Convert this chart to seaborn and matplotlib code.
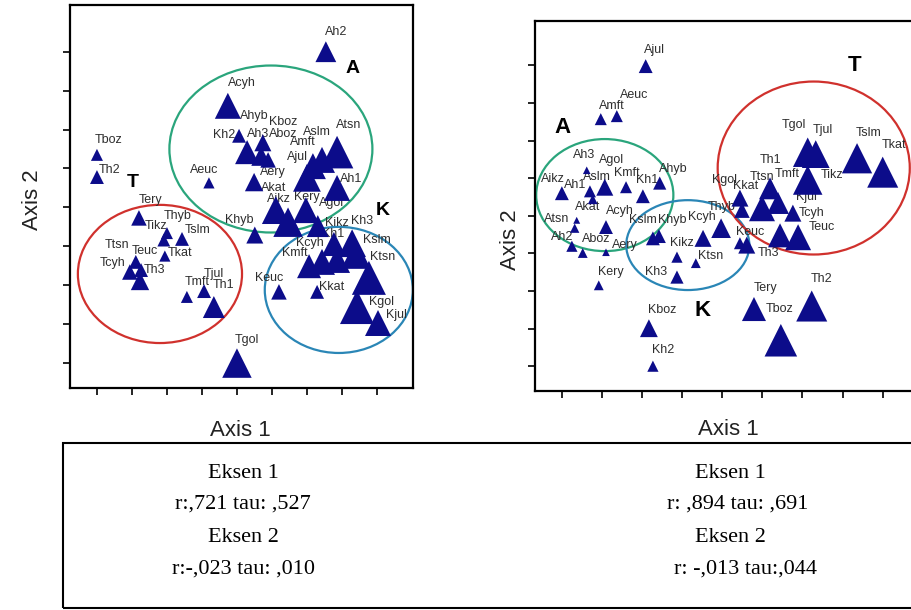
import matplotlib
matplotlib.use("Agg")
import matplotlib.pyplot as plt
from matplotlib.patches import Ellipse, Rectangle
import pandas as pd
import seaborn as sns

sns.set_style("ticks")
plt.rcParams["font.family"] = ["Liberation Sans", "DejaVu Sans"]

# ---------------- left ordination (scores in axis units) ----------------
left_names = ["Ah2", "Acyh", "Ahyb", "Kh2", "Kboz", "Ah3", "Aboz", "Aslm", "Atsn",
              "Amft", "Ajul", "Aery", "Akat", "Aikz", "Kery", "Agol", "Ah1", "Aeuc",
              "Khyb", "Kikz", "Kh3", "Kh1", "Kcyh", "Kslm", "Kmft", "Ktsn", "Keuc",
              "Kkat", "Kgol", "Kjul",
              "Tboz", "Th2", "Tery", "Tikz", "Thyb", "Tslm", "Tkat", "Ttsn", "Teuc",
              "Tcyh", "Th3", "Tmft", "Tjul", "Th1", "Tgol"]
left_axis1 = [6.54, 3.74, 4.29, 4.06, 4.74, 4.69, 4.89, 6.43, 6.86,
              6.17, 6.00, 4.49, 5.11, 5.46, 5.97, 6.31, 6.86, 3.20,
              4.51, 6.77, 7.29, 6.86, 6.43, 7.40, 6.06, 7.77, 5.20,
              6.29, 7.43, 8.03,
              0.00, 0.00, 1.20, 1.91, 2.00, 2.43, 1.94, 1.11, 1.26,
              0.94, 1.23, 2.57, 3.06, 3.34, 4.00]
left_axis2 = [8.00, 6.61, 5.42, 5.84, 5.66, 5.32, 5.22, 5.22, 5.42,
              5.06, 4.76, 4.65, 3.93, 3.62, 3.93, 3.52, 4.50, 4.63,
              3.29, 3.06, 3.08, 2.65, 2.60, 2.80, 2.49, 2.19, 1.83,
              1.83, 1.44, 1.03,
              5.35, 4.78, 3.73, 3.16, 3.34, 3.19, 2.75, 2.60, 2.39,
              2.34, 2.11, 1.70, 1.85, 1.44, 0.00]
left_abund = [4.5, 7, 6, 2, 3, 4, 2.5, 7, 11,
              7, 8, 3.5, 8, 9, 7, 5, 7, 1.3,
              3, 6, 8, 7, 7, 9, 6, 12, 2.5,
              2, 12, 7,
              1.5, 2, 2.5, 1.7, 1.5, 2, 1.3, 2, 2,
              2.5, 3.5, 1.5, 2, 5, 9]

# ---------------- right ordination ----------------
right_names = ["Ajul", "Aeuc", "Amft", "Ah3", "Agol", "Aslm", "Ah1", "Aikz", "Ahyb",
               "Akat", "Atsn", "Acyh", "Ah2", "Aboz", "Aery",
               "Kmft", "Kh1", "Kery", "Kslm", "Khyb", "Kikz", "Kh3", "Kboz", "Kh2",
               "Ktsn", "Kcyh", "Keuc", "Kgol", "Kkat", "Kjul",
               "Thyb", "Th3", "Ttsn", "Th1", "Tmft", "Tgol", "Tjul", "Tikz", "Tslm",
               "Tkat", "Tcyh", "Teuc", "Tery", "Tboz", "Th2"]
right_axis1 = [2.09, 1.37, 0.97, 0.62, 1.07, 0.70, 0.77, 0.00, 2.44,
               0.37, 0.32, 1.10, 0.25, 0.52, 1.10,
               1.60, 2.02, 0.92, 2.27, 2.42, 2.87, 2.87, 2.17, 2.27,
               3.34, 3.52, 4.44, 4.44, 4.49, 5.76,
               3.97, 4.61, 4.99, 5.19, 5.39, 6.13, 6.33, 6.13, 7.36,
               8.00, 5.44, 5.89, 4.79, 5.46, 6.23]
right_axis2 = [7.98, 6.65, 6.57, 5.21, 4.76, 4.65, 4.44, 4.60, 4.87,
               3.88, 3.67, 3.70, 3.19, 3.01, 3.03,
               4.76, 4.52, 2.15, 3.40, 3.46, 2.90, 2.37, 1.01, 0.00,
               2.74, 3.40, 3.27, 4.47, 4.15, 4.07,
               3.67, 3.22, 4.20, 4.73, 4.34, 5.69, 5.64, 4.95, 5.53,
               5.16, 3.48, 3.43, 1.52, 0.69, 1.60]
right_abund = [2, 1.5, 1.5, 0.6, 3, 1.5, 1, 2, 1.8,
               0.5, 0.9, 2, 1.3, 1, 0.6,
               1.5, 2, 1, 2, 2, 1.3, 1.8, 3.3, 1.3,
               1, 3, 1.5, 3, 2.5, 3,
               4, 3, 7, 5, 5, 9, 8, 9, 9.5,
               10, 6, 7, 6, 11, 10]

# correlation summary printed under the plots
stats_left = ["Eksen 1", "r:,721 tau: ,527", "Eksen 2", "r:-,023 tau: ,010"]
stats_right = ["Eksen 1", "r: ,894 tau: ,691", "Eksen 2", "r: -,013 tau:,044"]

# ---------------- styling ----------------
NAVY = "#0c0c8a"
LABEL_COLOR = "#2e2e2e"
GREEN, RED, BLUE = "#2aa57c", "#d0312d", "#2a86b6"

# label offsets in pixels (dx right, dy down) from each marker
left_offsets = {
    "Ah2": (10, -20), "Acyh": (14, -23), "Ahyb": (7, -36), "Kh2": (-15, -1),
    "Kboz": (20, -21), "Ah3": (-3, -22), "Aboz": (15, -26), "Aslm": (-5, -28),
    "Atsn": (12, -27), "Amft": (-10, -24), "Ajul": (-9, -21), "Aery": (19, -10),
    "Akat": (-2, -22), "Aikz": (-9, -23), "Kery": (1, -13), "Agol": (14, -23),
    "Ah1": (14, -9), "Aeuc": (-5, -13), "Khyb": (-16, -15), "Kikz": (3, -21),
    "Kh3": (10, -22), "Kh1": (-4, -26), "Kcyh": (-12, -19), "Kslm": (21, -14),
    "Kmft": (-14, -13), "Ktsn": (14, -21), "Keuc": (-10, -14), "Kkat": (15, -5),
    "Kgol": (24, -5), "Kjul": (18, -8), "Tboz": (12, -15), "Th2": (13, -7),
    "Tery": (12, -18), "Tikz": (-8, -14), "Thyb": (11, -17), "Tslm": (16, -9),
    "Tkat": (15, -3), "Ttsn": (-19, -17), "Teuc": (4, -19), "Tcyh": (-17, -9),
    "Th3": (14, -11), "Tmft": (10, -15), "Tjul": (10, -17), "Th1": (10, -22),
    "Tgol": (10, -23),
}
right_offsets = {
    "Ajul": (9, -16), "Aeuc": (17, -21), "Amft": (11, -13), "Ah3": (-3, -15),
    "Agol": (7, -27), "Aslm": (7, -14), "Ah1": (-18, -14), "Aikz": (-9, -14),
    "Ahyb": (14, -14), "Akat": (11, -13), "Atsn": (-18, -9), "Acyh": (14, -16),
    "Ah2": (-10, -9), "Aboz": (13, -14), "Aery": (19, -7), "Kmft": (1, -14),
    "Kh1": (4, -16), "Kery": (12, -13), "Kslm": (-10, -18), "Khyb": (13, -16),
    "Kikz": (5, -14), "Kh3": (-21, -5), "Kboz": (13, -18), "Kh2": (10, -16),
    "Ktsn": (15, -7), "Kcyh": (-1, -21), "Keuc": (10, -11), "Kgol": (-15, -18),
    "Kkat": (4, -24), "Kjul": (14, -16), "Thyb": (1, -21), "Th3": (22, 8),
    "Ttsn": (0, -31), "Th1": (1, -28), "Tmft": (9, -29), "Tgol": (-14, -27),
    "Tjul": (7, -24), "Tikz": (24, -5), "Tslm": (12, -25), "Tkat": (11, -27),
    "Tcyh": (32, -22), "Teuc": (24, -10), "Tery": (12, -21), "Tboz": (-1, -31),
    "Th2": (10, -27),
}

# group outlines: centre x, centre y, width, height, colour
left_groups = [(4.97, 5.50, 5.80, 4.29, GREEN),
               (1.80, 2.29, 4.69, 3.55, RED),
               (6.91, 1.88, 4.23, 3.24, BLUE)]
right_groups = [(1.07, 4.55, 3.42, 2.98, GREEN),
                (3.14, 3.22, 3.07, 2.39, BLUE),
                (6.28, 5.27, 4.79, 4.60, RED)]
left_letters = [("A", 7.31, 7.58), ("T", 1.03, 4.65), ("K", 8.17, 3.93)]
right_letters = [("A", 0.02, 6.36), ("T", 7.31, 8.00), ("K", 3.52, 1.49)]

fig = plt.figure(figsize=(9.12, 6.1), dpi=100)
ax_l = fig.add_axes([70 / 912, 222 / 610, 343 / 912, 383 / 610])
ax_r = fig.add_axes([535 / 912, 219 / 610, 383 / 912, 370 / 610])


def draw_panel(ax, names, a1, a2, ab, offsets, groups, letters, xlim, ylim,
               letter_size, ylab_pos, xlab_pos):
    df = pd.DataFrame({"sample": names, "axis1": a1, "axis2": a2, "abund": ab})
    for cx, cy, w, h, col in groups:
        ax.add_patch(Ellipse((cx, cy), w, h, fill=False, ec=col, lw=1.6, zorder=1.5))
    for name, x, y in zip(df["sample"], df["axis1"], df["axis2"]):
        dx, dy = offsets[name]
        ax.annotate(name, (x, y), xytext=(dx, -dy), textcoords="offset pixels",
                    ha="center", va="center", fontsize=9, color=LABEL_COLOR,
                    zorder=2)
    sns.scatterplot(data=df, x="axis1", y="axis2", size="abund",
                    sizes=(0, 600), size_norm=(0, 12), marker="^", color=NAVY,
                    linewidth=0, legend=False, ax=ax, zorder=3)
    for txt, x, y in letters:
        ax.text(x, y, txt, fontsize=letter_size, fontweight="bold",
                ha="center", va="center", color="black", zorder=4)
    ax.set_xlim(*xlim)
    ax.set_ylim(*ylim)
    ax.set_xticks(range(9))
    ax.set_yticks(range(9))
    ax.tick_params(direction="out", length=5, width=1.2, color="black",
                   labelbottom=False, labelleft=False, bottom=True, left=True)
    ax.set_xlabel("")
    ax.set_ylabel("")
    for sp in ax.spines.values():
        sp.set_visible(True)
        sp.set_color("black")
        sp.set_linewidth(1.6)
    ax.text(*ylab_pos, "Axis 2", rotation=90, ha="center", va="center",
            fontsize=16, color="#222222", transform=ax.transAxes)
    ax.text(*xlab_pos, "Axis 1", ha="center", va="center",
            fontsize=16, color="#222222", transform=ax.transAxes)


draw_panel(ax_l, left_names, left_axis1, left_axis2, left_abund, left_offsets,
           left_groups, left_letters, (-0.77, 9.03), (-0.64, 9.20), 14,
           (-0.108, 0.491), (0.496, -0.110))
draw_panel(ax_r, right_names, right_axis1, right_axis2, right_abund, right_offsets,
           right_groups, right_letters, (-0.67, 8.88), (-0.66, 9.18), 16,
           (-0.065, 0.408), (0.504, -0.105))

# summary box beneath the two ordinations
fig.patches.append(Rectangle((63 / 912, 2 / 610), 1.0, 165 / 610, fill=False,
                             ec="black", lw=1.5, transform=fig.transFigure))
rows_y = [473, 504, 537, 569]
for txt, y in zip(stats_left, rows_y):
    fig.text(243 / 912, 1 - y / 610, txt, ha="center", va="center", fontsize=16,
             color="black", family=["Liberation Serif", "DejaVu Serif"])
for txt, y, xc in zip(stats_right, rows_y, [730, 738, 730, 746]):
    fig.text(xc / 912, 1 - y / 610, txt, ha="center", va="center", fontsize=16,
             color="black", family=["Liberation Serif", "DejaVu Serif"])

fig.savefig("out.png", dpi=100)
